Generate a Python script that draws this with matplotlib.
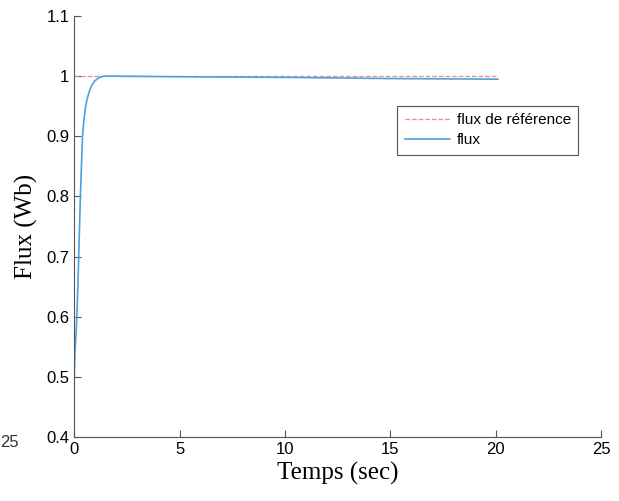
import matplotlib
matplotlib.use('Agg')
import matplotlib.pyplot as plt

# donnees
temps = [0, 0.03, 0.08, 0.12, 0.17, 0.21, 0.25, 0.29, 0.34, 0.39, 0.45, 0.52, 0.58, 0.64, 0.72, 0.82, 0.95, 1.07, 1.2, 1.4, 2, 5, 10, 15, 20.1]
flux = [0.5, 0.54, 0.57, 0.6, 0.65, 0.7, 0.75, 0.8, 0.85, 0.9, 0.925, 0.945, 0.957, 0.966, 0.975, 0.984, 0.991, 0.995, 0.998, 1.0, 1.0, 0.999, 0.998, 0.996, 0.995]
temps_ref = [0, 20.1]
flux_ref = [1, 1]

xticks = [0, 5, 10, 15, 20, 25]
yticks = [0.4, 0.5, 0.6, 0.7, 0.8, 0.9, 1, 1.1]
yticklabels = ['0.4', '0.5', '0.6', '0.7', '0.8', '0.9', '1', '1.1']

fig = plt.figure(figsize=(6.19, 5.01), dpi=100)
ax = fig.add_axes([0.120, 0.128, 0.851, 0.840])

ax.plot(temps_ref, flux_ref, '--', color='#e88c8c', lw=0.9, label='flux de référence')
ax.plot(temps, flux, '-', color='#4aa3dc', lw=1.2, label='flux')

ax.set_xlim(0, 25)
ax.set_ylim(0.4, 1.1)
ax.set_xticks(xticks)
ax.set_yticks(yticks)
ax.set_yticklabels(yticklabels)
for s in ['top', 'right']:
    ax.spines[s].set_visible(False)
for s in ['left', 'bottom']:
    ax.spines[s].set_color('#555555')
ax.tick_params(direction='in', length=5, color='#555555', labelsize=12)
for lab in ax.get_xticklabels() + ax.get_yticklabels():
    lab.set_family('Liberation Sans')

ax.set_xlabel('Temps (sec)', fontsize=18, family='Liberation Serif', labelpad=4)
ax.set_ylabel('Flux (Wb)', fontsize=18, family='Liberation Serif', labelpad=6)

leg = ax.legend(loc='upper left', bbox_to_anchor=(0.598, 0.805), fancybox=False,
                framealpha=1, edgecolor='#555555',
                prop={'family': 'Liberation Sans', 'size': 11},
                handlelength=3.0, handletextpad=0.4, borderpad=0.5, labelspacing=0.4)
leg.get_frame().set_linewidth(0.8)

# reste de la figure voisine sur le scan
fig.text(0.0, 0.107, '25', fontsize=12, family='Liberation Sans', color='#333333')

fig.savefig('out.png', dpi=100)
